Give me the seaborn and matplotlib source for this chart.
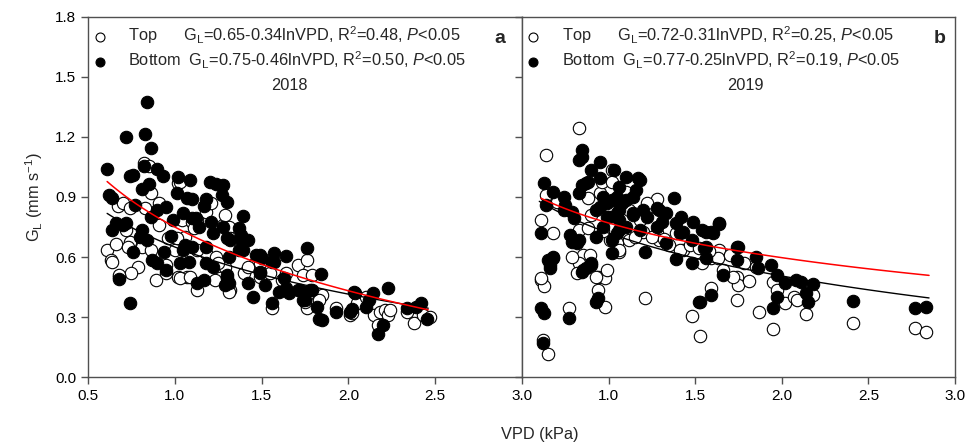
import numpy as np
import pandas as pd
import matplotlib
matplotlib.use("Agg")
import matplotlib.pyplot as plt
import seaborn as sns

# ---- data (VPD kPa, G_L mm s-1) ----
a_top = [(0.82, 1.07), (0.85, 1.055), (1.02, 0.97), (0.86, 0.92), (0.67, 0.855), (0.70, 0.87),
         (0.74, 0.845), (0.91, 0.87), (0.83, 0.845), (0.61, 0.635), (0.66, 0.665), (0.74, 0.675),
         (0.73, 0.65), (0.81, 0.65), (0.86, 0.635), (0.91, 0.76), (0.97, 0.70), (1.04, 0.785),
         (1.10, 0.775), (1.11, 0.745), (1.16, 0.635), (1.18, 0.62), (1.18, 0.825), (1.28, 0.76),
         (1.31, 0.75), (1.03, 0.975), (1.21, 0.87), (1.13, 0.785), (1.29, 0.81), (0.63, 0.585),
         (0.79, 0.55), (0.75, 0.52), (0.68, 0.50), (0.89, 0.485), (0.95, 0.56), (0.96, 0.695),
         (1.02, 0.50), (1.07, 0.50), (1.13, 0.435), (1.00, 0.635), (1.06, 0.70), (1.13, 0.635),
         (1.24, 0.60), (1.29, 0.55), (1.26, 0.495), (0.64, 0.575), (0.68, 0.51), (0.95, 0.52),
         (1.03, 0.495), (1.09, 0.50), (1.23, 0.485), (1.25, 0.57), (1.32, 0.435), (1.40, 0.52),
         (1.46, 0.57), (1.49, 0.50), (1.55, 0.52), (1.56, 0.345), (1.62, 0.485), (1.64, 0.52),
         (1.71, 0.56), (1.74, 0.51), (1.76, 0.345), (1.79, 0.51), (1.82, 0.375), (1.85, 0.41),
         (1.93, 0.345), (2.01, 0.31), (2.05, 0.37), (2.10, 0.40), (2.15, 0.31), (2.18, 0.325),
         (2.21, 0.335), (2.23, 0.31), (2.17, 0.26), (2.34, 0.325), (2.38, 0.27), (2.43, 0.31),
         (2.47, 0.30), (2.24, 0.335), (1.76, 0.585), (1.32, 0.695), (1.31, 0.425), (1.42, 0.55),
         (2.02, 0.32), (0.72, 0.735), (1.01, 0.695), (1.75, 0.375), (1.83, 0.385), (1.49, 0.57)]

a_bot = [(0.61, 1.04), (0.72, 1.20), (0.84, 1.375), (0.83, 1.215), (0.86, 1.145), (0.74, 1.005),
         (0.76, 1.01), (0.82, 1.055), (0.90, 1.04), (0.93, 1.005), (1.02, 1.0), (1.09, 0.985),
         (1.20, 0.975), (1.24, 0.965), (0.85, 0.965), (0.81, 0.94), (0.62, 0.91), (0.64, 0.895),
         (1.01, 0.92), (1.07, 0.895), (1.10, 0.89), (1.27, 0.91), (1.30, 0.875), (1.18, 0.89),
         (1.17, 0.855), (1.39, 0.805), (1.05, 0.82), (0.99, 0.785), (1.10, 0.795), (1.12, 0.795),
         (1.14, 0.75), (1.21, 0.775), (1.28, 0.75), (1.22, 0.72), (1.37, 0.745), (1.38, 0.71),
         (1.47, 0.61), (1.49, 0.61), (1.57, 0.62), (1.64, 0.605), (1.76, 0.645), (0.77, 0.86),
         (0.90, 0.835), (0.95, 0.85), (0.86, 0.80), (0.66, 0.77), (0.70, 0.76), (0.72, 0.77),
         (0.64, 0.735), (0.81, 0.735), (0.80, 0.70), (0.84, 0.685), (0.76, 0.625), (0.94, 0.625),
         (0.98, 0.705), (1.06, 0.66), (1.10, 0.65), (1.18, 0.65), (1.30, 0.695), (1.32, 0.685),
         (0.68, 0.49), (0.74, 0.37), (0.87, 0.585), (0.90, 0.57), (0.95, 0.535), (1.03, 0.57),
         (1.05, 0.635), (1.08, 0.575), (1.13, 0.47), (1.17, 0.485), (1.18, 0.57), (1.22, 0.55),
         (1.30, 0.495), (1.29, 0.46), (1.31, 0.60), (1.37, 0.635), (1.38, 0.685), (1.42, 0.47),
         (1.45, 0.40), (1.49, 0.525), (1.52, 0.46), (1.56, 0.37), (1.57, 0.575), (1.60, 0.425),
         (1.66, 0.42), (1.71, 0.435), (1.75, 0.385), (1.79, 0.435), (1.82, 0.35), (1.83, 0.29),
         (1.84, 0.515), (1.63, 0.495), (1.93, 0.325), (2.01, 0.325), (2.02, 0.34), (2.04, 0.42),
         (2.10, 0.35), (2.12, 0.385), (2.14, 0.42), (2.20, 0.26), (2.17, 0.215), (2.23, 0.445),
         (2.34, 0.345), (2.42, 0.37), (2.45, 0.29), (2.39, 0.35), (1.28, 0.96), (1.39, 0.635),
         (1.42, 0.685), (1.50, 0.595), (1.56, 0.575), (1.64, 0.445), (1.72, 0.435), (1.78, 0.435),
         (1.74, 0.385), (1.85, 0.285), (2.03, 0.425), (1.30, 0.51), (1.31, 0.47), (1.49, 0.52)]

b_top = [(0.83, 1.245), (0.64, 1.11), (0.61, 0.785), (0.68, 0.72), (1.28, 0.89), (1.22, 0.87),
         (1.02, 1.035), (0.95, 0.92), (0.88, 0.895), (0.83, 0.735), (0.90, 0.81), (1.12, 0.835),
         (1.18, 0.785), (1.28, 0.72), (1.39, 0.72), (0.85, 0.61), (0.89, 0.61), (1.05, 0.67),
         (1.43, 0.635), (1.64, 0.635), (0.61, 0.485), (0.63, 0.455), (0.83, 0.57), (0.82, 0.52),
         (0.94, 0.50), (0.98, 0.495), (0.99, 0.535), (0.94, 0.435), (0.98, 0.35), (0.77, 0.345),
         (0.62, 0.185), (0.65, 0.115), (1.21, 0.395), (1.06, 0.625), (1.48, 0.305), (1.53, 0.205),
         (1.59, 0.445), (1.74, 0.385), (1.74, 0.50), (1.87, 0.325), (1.95, 0.24), (1.75, 0.46),
         (1.81, 0.48), (1.95, 0.475), (1.97, 0.435), (2.02, 0.37), (2.07, 0.40), (2.09, 0.385),
         (2.14, 0.315), (2.18, 0.41), (2.41, 0.27), (2.77, 0.245), (2.83, 0.225), (1.72, 0.50),
         (1.59, 0.595), (1.63, 0.595), (1.54, 0.57), (1.66, 0.535), (0.64, 0.91), (0.70, 0.875),
         (0.88, 0.745), (0.96, 0.975), (1.02, 0.975), (1.10, 0.925), (1.20, 0.725), (1.29, 0.685),
         (1.35, 0.66), (1.41, 0.635), (1.01, 0.685), (1.06, 0.635), (1.12, 0.685), (0.93, 0.50),
         (0.61, 0.495), (1.15, 0.70), (1.25, 0.70), (1.32, 0.69), (1.47, 0.66), (1.52, 0.645),
         (1.58, 0.63), (1.70, 0.61), (1.78, 0.57), (1.85, 0.55), (0.97, 0.73), (0.79, 0.60)]

b_bot = [(0.63, 0.97), (0.68, 0.925), (0.74, 0.90), (0.64, 0.86), (0.74, 0.835), (0.61, 0.72),
         (0.78, 0.71), (0.80, 0.795), (0.82, 0.67), (0.845, 1.135), (0.83, 1.085), (0.95, 1.075),
         (0.90, 1.035), (0.87, 0.97), (0.83, 0.92), (0.95, 0.995), (1.03, 1.035), (1.10, 1.0),
         (1.17, 0.995), (1.16, 0.935), (1.06, 0.95), (1.05, 0.90), (0.99, 0.87), (0.95, 0.85),
         (1.06, 0.835), (1.10, 0.885), (1.00, 0.80), (1.06, 0.785), (1.14, 0.82), (1.22, 0.80),
         (1.29, 0.835), (1.33, 0.82), (1.38, 0.895), (1.42, 0.80), (1.28, 0.75), (1.18, 0.735),
         (1.06, 0.735), (0.97, 0.75), (0.93, 0.70), (1.02, 0.685), (1.33, 0.67), (1.41, 0.72),
         (1.49, 0.775), (1.54, 0.735), (1.59, 0.725), (1.64, 0.77), (1.48, 0.685), (1.56, 0.65),
         (1.74, 0.65), (1.21, 0.625), (1.02, 0.62), (0.68, 0.60), (0.61, 0.345), (0.63, 0.32),
         (0.62, 0.17), (0.77, 0.295), (0.93, 0.375), (0.66, 0.545), (0.68, 0.595), (0.845, 0.525),
         (0.87, 0.545), (0.90, 0.57), (1.39, 0.59), (1.48, 0.57), (1.52, 0.375), (1.59, 0.41),
         (1.66, 0.51), (1.56, 0.595), (1.56, 0.725), (1.60, 0.72), (1.74, 0.585), (1.85, 0.60),
         (1.86, 0.545), (1.94, 0.56), (1.97, 0.51), (1.97, 0.40), (1.95, 0.345), (2.02, 0.47),
         (2.08, 0.485), (2.11, 0.475), (2.18, 0.465), (2.14, 0.42), (2.15, 0.375), (2.41, 0.38),
         (2.77, 0.345), (2.83, 0.35), (1.55, 0.645), (1.18, 0.985), (0.97, 0.90), (1.02, 0.885),
         (1.08, 0.87), (1.14, 0.90), (1.20, 0.835), (1.28, 0.845), (1.43, 0.725), (0.93, 0.835),
         (0.99, 0.80), (1.05, 0.82), (1.14, 0.81), (1.10, 0.75), (1.05, 0.72), (0.79, 0.825),
         (0.75, 0.86), (0.845, 0.96), (0.88, 0.975), (0.845, 1.10), (0.79, 0.675), (0.83, 0.685),
         (0.94, 0.395), (0.65, 0.585), (0.66, 0.56), (0.85, 0.535), (0.90, 0.56), (1.31, 0.775),
         (1.39, 0.77), (1.64, 0.765), (1.75, 0.65), (1.53, 0.375)]

# fitted models  G_L = a - b*ln(VPD), with VPD range of each fit
fit_a = {"top": (0.65, 0.34, 0.61, 2.46), "bot": (0.75, 0.46, 0.61, 2.46)}
fit_b = {"top": (0.72, 0.31, 0.60, 2.85), "bot": (0.77, 0.25, 0.61, 2.85)}

labels_a = ["Top      G$_{\\rm L}$=0.65-0.34lnVPD, R$^{2}$=0.48, $P$<0.05",
            "Bottom  G$_{\\rm L}$=0.75-0.46lnVPD, R$^{2}$=0.50, $P$<0.05"]
labels_b = ["Top      G$_{\\rm L}$=0.72-0.31lnVPD, R$^{2}$=0.25, $P$<0.05",
            "Bottom  G$_{\\rm L}$=0.77-0.25lnVPD, R$^{2}$=0.19, $P$<0.05"]
years = ["2018", "2019"]
panel_tags = ["a", "b"]
yticks = [0.0, 0.3, 0.6, 0.9, 1.2, 1.5, 1.8]

sns.set_style("ticks")
plt.rcParams['font.family'] = ['Liberation Sans', 'DejaVu Sans']
plt.rcParams['mathtext.fontset'] = 'custom'
plt.rcParams['mathtext.rm'] = 'Liberation Sans'
plt.rcParams['mathtext.it'] = 'Liberation Sans:italic'
plt.rcParams['mathtext.bf'] = 'Liberation Sans:bold'
plt.rcParams['axes.edgecolor'] = '#505050'
plt.rcParams['xtick.color'] = '#505050'
plt.rcParams['ytick.color'] = '#505050'
plt.rcParams['xtick.labelcolor'] = 'black'
plt.rcParams['ytick.labelcolor'] = 'black'

fs = 11.8
fig = plt.figure(figsize=(9.76, 4.46), dpi=100)
ax_a = fig.add_axes([0.0902, 0.1547, 0.4446, 0.8072])
ax_b = fig.add_axes([0.5348, 0.1547, 0.4437, 0.8072])

panels = [(ax_a, a_top, a_bot, fit_a, labels_a), (ax_b, b_top, b_bot, fit_b, labels_b)]
for i, (ax, top, bot, fit, labs) in enumerate(panels):
    top_df = pd.DataFrame(top, columns=["vpd", "gl"])
    bot_df = pd.DataFrame(bot, columns=["vpd", "gl"])
    sns.scatterplot(data=top_df, x="vpd", y="gl", ax=ax, s=80, marker="o",
                    facecolor="white", edgecolor="black", linewidth=0.8, label=labs[0], zorder=2)
    sns.scatterplot(data=bot_df, x="vpd", y="gl", ax=ax, s=80, marker="o",
                    color="black", edgecolor="black", linewidth=0.8, label=labs[1], zorder=3)

    # fitted curves
    for key, col, lw in [("top", "black", 1.0), ("bot", "red", 1.1)]:
        a, b, x0, x1 = fit[key]
        xs = np.linspace(x0, x1, 100)
        sns.lineplot(x=xs, y=a - b * np.log(xs), ax=ax, color=col, linewidth=lw, zorder=4)

    ax.set_xlim(0.5, 3.0)
    ax.set_ylim(0, 1.8)
    ax.set_yticks(yticks)
    ax.set_xlabel("")
    ax.set_ylabel("")
    for sp in ax.spines.values():
        sp.set_visible(True)
        sp.set_linewidth(1.0)
    ax.tick_params(direction="out", length=5, width=1.0, labelsize=11)

    ax.legend(loc="upper left", bbox_to_anchor=(0.0, 0.992), frameon=False,
              fontsize=fs, handlelength=0.8, handletextpad=1.35,
              borderaxespad=0.1, borderpad=0.2, labelspacing=0.2, markerscale=0.72)

    ax.text([0.465, 0.515][i], 0.81, years[i], transform=ax.transAxes,
            ha="center", va="center", fontsize=fs)
    ax.text([0.949, 0.965][i], 0.94, panel_tags[i], transform=ax.transAxes,
            ha="center", va="center", fontsize=14, fontweight="bold")

ax_a.set_xticks([0.5, 1.0, 1.5, 2.0, 2.5, 3.0])
ax_a.set_yticklabels([f"{v:.1f}" for v in yticks])
ax_a.set_xticklabels(["0.5", "1.0", "1.5", "2.0", "2.5", "3.0"])
ax_b.set_xticks([1.0, 1.5, 2.0, 2.5, 3.0])
ax_b.set_xticklabels(["1.0", "1.5", "2.0", "2.5", "3.0"])
ax_b.set_yticklabels([])

ax_a.set_ylabel("G$_{\\rm L}$ (mm s$^{-1}$)", fontsize=fs, labelpad=7)
fig.text(0.553, 0.025, "VPD (kPa)", ha="center", va="center", fontsize=fs)

fig.savefig("out.png", dpi=100)
